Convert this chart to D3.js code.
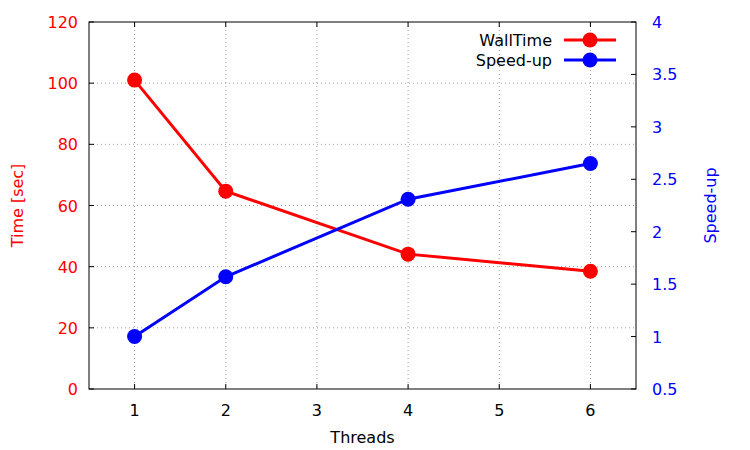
<!DOCTYPE html>
<html>
<head>
<meta charset="utf-8">
<script src="https://cdn.jsdelivr.net/npm/d3@7"></script>
<style>
  body { margin: 0; background: #fff; }
  text { font-family: "DejaVu Sans", sans-serif; font-size: 16px; }
</style>
</head>
<body>
<div id="chart"></div>
<script>
var threads = [1, 2, 4, 6];
var wallTime = [101, 64.7, 44.1, 38.5];
var speedUp = [1.0, 1.57, 2.31, 2.65];
var xTicks = [1, 2, 3, 4, 5, 6];
var yTicks = [0, 20, 40, 60, 80, 100, 120];
var y2Ticks = [0.5, 1, 1.5, 2, 2.5, 3, 3.5, 4];

var width = 750, height = 450;
var pLeft = 89, pRight = 636, pTop = 22, pBottom = 389;

var svg = d3.select("#chart")
  .append("svg")
    .attr("width", width)
    .attr("height", height);

var x = d3.scaleLinear().domain([0.5, 6.5]).range([pLeft, pRight]);
var y = d3.scaleLinear().domain([0, 120]).range([pBottom, pTop]);
var y2 = d3.scaleLinear().domain([0.5, 4]).range([pBottom, pTop]);

// grid
svg.selectAll(".vgrid")
  .data(xTicks)
  .enter()
  .append("line")
    .attr("x1", function(d) {return x(d)})
    .attr("x2", function(d) {return x(d)})
    .attr("y1", pTop)
    .attr("y2", pBottom)
    .attr("stroke", "#a0a0a0")
    .attr("stroke-width", 1)
    .attr("stroke-dasharray", "1,3");

svg.selectAll(".hgrid")
  .data(yTicks.slice(1, -1))
  .enter()
  .append("line")
    .attr("x1", pLeft)
    .attr("x2", pRight)
    .attr("y1", function(d) {return y(d)})
    .attr("y2", function(d) {return y(d)})
    .attr("stroke", "#a0a0a0")
    .attr("stroke-width", 1)
    .attr("stroke-dasharray", "1,3");

// ticks (inside, mirrored on top)
var tickLen = 5;
xTicks.forEach(function(d) {
  svg.append("line").attr("x1", x(d)).attr("x2", x(d)).attr("y1", pBottom).attr("y2", pBottom - tickLen).attr("stroke", "#000");
  svg.append("line").attr("x1", x(d)).attr("x2", x(d)).attr("y1", pTop).attr("y2", pTop + tickLen).attr("stroke", "#000");
});
yTicks.forEach(function(d) {
  svg.append("line").attr("x1", pLeft).attr("x2", pLeft + tickLen).attr("y1", y(d)).attr("y2", y(d)).attr("stroke", "#000");
});
y2Ticks.forEach(function(d) {
  svg.append("line").attr("x1", pRight).attr("x2", pRight - tickLen).attr("y1", y2(d)).attr("y2", y2(d)).attr("stroke", "#000");
});

// border
svg.append("rect")
  .attr("x", pLeft)
  .attr("y", pTop)
  .attr("width", pRight - pLeft)
  .attr("height", pBottom - pTop)
  .attr("fill", "none")
  .attr("stroke", "#000")
  .attr("stroke-width", 1);

// tick labels
svg.selectAll(".xl")
  .data(xTicks)
  .enter()
  .append("text")
    .attr("x", function(d) {return x(d)})
    .attr("y", 416)
    .attr("text-anchor", "middle")
    .attr("fill", "#000")
    .text(function(d) {return d});

svg.selectAll(".yl")
  .data(yTicks)
  .enter()
  .append("text")
    .attr("x", 78)
    .attr("y", function(d) {return y(d) + 6})
    .attr("text-anchor", "end")
    .attr("fill", "#ff0000")
    .text(function(d) {return d});

svg.selectAll(".y2l")
  .data(y2Ticks)
  .enter()
  .append("text")
    .attr("x", 652)
    .attr("y", function(d) {return y2(d) + 6})
    .attr("text-anchor", "start")
    .attr("fill", "#0000ff")
    .text(function(d) {return d});

// axis titles
svg.append("text")
  .attr("x", (pLeft + pRight) / 2)
  .attr("y", 443)
  .attr("text-anchor", "middle")
  .attr("fill", "#000")
  .text("Threads");

svg.append("text")
  .attr("transform", "translate(23," + ((pTop + pBottom) / 2) + ") rotate(-90)")
  .attr("text-anchor", "middle")
  .attr("fill", "#ff0000")
  .text("Time [sec]");

svg.append("text")
  .attr("transform", "translate(716," + ((pTop + pBottom) / 2) + ") rotate(-90)")
  .attr("text-anchor", "middle")
  .attr("fill", "#0000ff")
  .text("Speed-up");

// series
var series = [
  {name: "WallTime", color: "#ff0000", values: wallTime, scale: y},
  {name: "Speed-up", color: "#0000ff", values: speedUp, scale: y2}
];

series.forEach(function(s) {
  var line = d3.line()
    .x(function(d, i) {return x(threads[i])})
    .y(function(d) {return s.scale(d)});
  svg.append("path")
    .datum(s.values)
    .attr("d", line)
    .attr("fill", "none")
    .attr("stroke", s.color)
    .attr("stroke-width", 3);
  svg.selectAll(null)
    .data(s.values)
    .enter()
    .append("circle")
      .attr("cx", function(d, i) {return x(threads[i])})
      .attr("cy", function(d) {return s.scale(d)})
      .attr("r", 7.5)
      .attr("fill", s.color);
});

// legend
series.forEach(function(s, i) {
  var ly = 40 + i * 20;
  svg.append("text")
    .attr("x", 552)
    .attr("y", ly + 6)
    .attr("text-anchor", "end")
    .attr("fill", "#000")
    .text(s.name);
  svg.append("line")
    .attr("x1", 564)
    .attr("x2", 616)
    .attr("y1", ly)
    .attr("y2", ly)
    .attr("stroke", s.color)
    .attr("stroke-width", 3);
  svg.append("circle")
    .attr("cx", 590)
    .attr("cy", ly)
    .attr("r", 7.5)
    .attr("fill", s.color);
});
</script>
</body>
</html>
